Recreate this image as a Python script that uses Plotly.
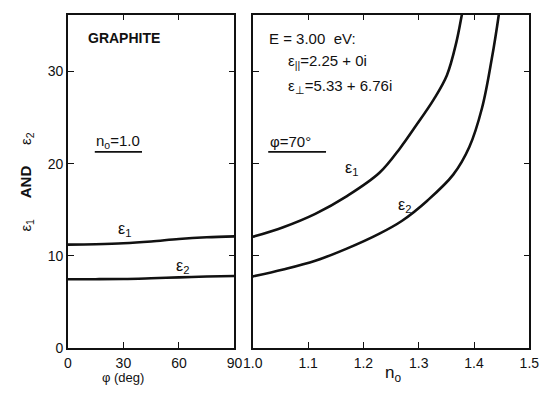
import plotly.graph_objects as go
from plotly.subplots import make_subplots

# Left panel: angle dependence at n0 = 1.0
phi_deg = [0, 15, 30, 45, 60, 75, 90]
eps1_phi = [11.2, 11.25, 11.35, 11.55, 11.82, 12.0, 12.1]
eps2_phi = [7.45, 7.45, 7.47, 7.55, 7.65, 7.74, 7.8]

# Right panel: ambient index dependence at phi = 70 deg
n0_e1 = [1.000, 1.055, 1.113, 1.171, 1.229, 1.2666, 1.293, 1.3275, 1.351, 1.368, 1.378, 1.385]
eps1_n0 = [12.05, 13.1, 14.55, 16.5, 19.0, 21.7, 23.94, 27.0, 29.6, 33.16, 36.17, 38.5]
n0_e2 = [1.000, 1.055, 1.113, 1.171, 1.229, 1.270, 1.316, 1.3624, 1.3915, 1.4146, 1.4321, 1.4448, 1.452]
eps2_n0 = [7.75, 8.5, 9.45, 10.8, 12.4, 13.8, 16.0, 18.8, 21.8, 26.06, 31.38, 36.17, 39.5]

phi_ticks = [0, 30, 60, 90]
n0_ticks = [1.0, 1.1, 1.2, 1.3, 1.4, 1.5]
n0_ticklabels = ["1.0", "1.1", "1.2", "1.3", "1.4", "1.5"]
eps_ticks = [0, 10, 20, 30]

FONT = "Liberation Sans"
INK = "#111111"

fig = make_subplots(rows=1, cols=2)

line = dict(color=INK, width=2.6, shape="spline", smoothing=1.0)
fig.add_trace(go.Scatter(x=phi_deg, y=eps1_phi, mode="lines", line=line), 1, 1)
fig.add_trace(go.Scatter(x=phi_deg, y=eps2_phi, mode="lines", line=line), 1, 1)
fig.add_trace(go.Scatter(x=n0_e1, y=eps1_n0, mode="lines", line=line), 1, 2)
fig.add_trace(go.Scatter(x=n0_e2, y=eps2_n0, mode="lines", line=line), 1, 2)

W, H = 548, 394
xd1 = [60 / W, 233 / W]
xd2 = [252 / W, 539 / W]
yd = [39 / H, 379 / H]
yr = [0, 36.17]

axis_common = dict(
    showgrid=False, zeroline=False, showline=True, linecolor=INK, linewidth=1.5,
    mirror="ticks", ticks="inside", ticklen=6, tickwidth=1.3, tickcolor=INK,
    tickfont=dict(family=FONT, size=14, color=INK),
)

fig.update_xaxes(domain=xd1, range=[0, 90], tickvals=phi_ticks, ticklabelstandoff=2,
                 row=1, col=1, **axis_common)
fig.update_xaxes(domain=xd2, range=[1.0, 1.5], tickvals=n0_ticks, ticktext=n0_ticklabels,
                 ticklabelstandoff=2, row=1, col=2, **axis_common)
fig.update_yaxes(domain=yd, range=yr, tickvals=eps_ticks, row=1, col=1, **axis_common)
fig.update_yaxes(domain=yd, range=yr, tickvals=eps_ticks, showticklabels=False,
                 row=1, col=2, **axis_common)


def note(text, x, y, xanchor="center", size=14, angle=0, yanchor="middle"):
    fig.add_annotation(text=text, x=x / W, y=1 - y / H, xref="paper", yref="paper",
                       showarrow=False, xanchor=xanchor, yanchor=yanchor, textangle=angle,
                       borderpad=0, font=dict(family=FONT, size=size, color=INK))


# Axis titles
note("φ (deg)", 117, 394, size=13, yanchor="bottom")
note("n<sub>o</sub>", 397, 394, size=17, yanchor="bottom")
note("ε<sub>1</sub>     <b>AND</b>     ε<sub>2</sub>", 17, 186, size=15, angle=-90)

# Left panel labels
note("<b>GRAPHITE</b>", 80, 39, xanchor="left", size=14)
note("n<sub>o</sub>=1.0", 88, 144, xanchor="left", size=15)
note("ε<sub>1</sub>", 119, 234, size=16)
note("ε<sub>2</sub>", 179, 272, size=16)

# Right panel labels
note("E = 3.00  eV:", 268, 39, xanchor="left", size=15)
note("ε<sub>||</sub>=2.25 + 0i", 287, 63, xanchor="left", size=15)
note("ε<sub>⊥</sub>=5.33 + 6.76i", 287, 88, xanchor="left", size=15)
note("φ=70°", 269, 144, xanchor="left", size=15)
note("ε<sub>1</sub>", 354, 172, size=16)
note("ε<sub>2</sub>", 409, 210, size=16)

# Underlines beneath the parameter labels
for x0, x1 in [(88, 137), (268, 328)]:
    fig.add_shape(type="line", xref="paper", yref="paper",
                  x0=x0 / W, x1=x1 / W, y0=1 - 155 / H, y1=1 - 155 / H,
                  line=dict(color=INK, width=1.6))

fig.update_layout(
    width=W, height=H, margin=dict(l=0, r=0, t=0, b=0),
    paper_bgcolor="white", plot_bgcolor="white", showlegend=False,
)

fig.write_html("out.html")
